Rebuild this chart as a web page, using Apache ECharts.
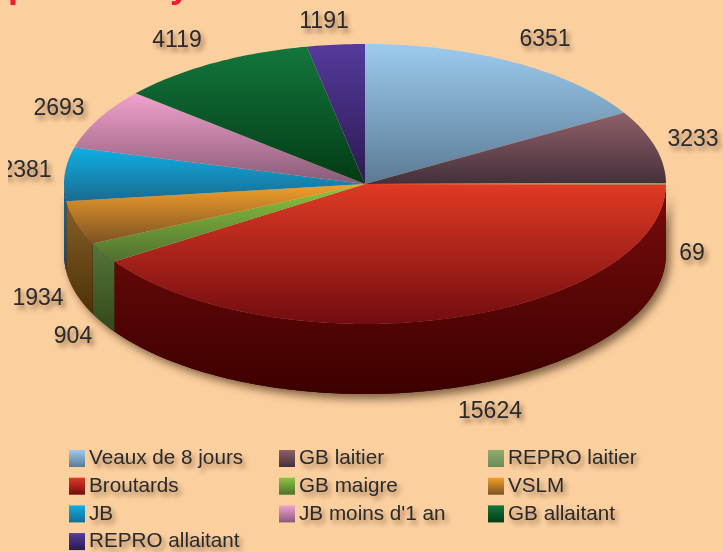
<!DOCTYPE html>
<html>
<head>
<meta charset="utf-8">
<style>
html,body{margin:0;padding:0;background:#fccf9f;}
#main{width:723px;height:552px;}
</style>
<script src="https://cdn.jsdelivr.net/npm/echarts@6/dist/echarts.min.js"></script>
</head>
<body>
<div id="main"></div>
<script>
var categories=['Veaux de 8 jours','GB laitier','REPRO laitier','Broutards','GB maigre','VSLM','JB','JB moins d\'1 an','GB allaitant','REPRO allaitant'];
var values=[6351,3233,69,15624,904,1934,2381,2693,4119,1191];

// top face colours, then side wall colours (light to dark)
var topColors=[['#9ccbef','#5b7a94'],['#906068','#44303a'],['#8fac70','#6f8a55'],['#e03a24','#720c10'],['#8cc63f','#4f702f'],['#f3a02a','#7c5224'],['#0db0e3','#1b6a90'],['#f2a2cc','#885a78'],['#13773c','#033a15'],['#553a9c','#2a1a50']];
var wallColors=[null,null,null,['#7a0c0c','#3c0000'],['#56763a','#33471b'],['#876028','#4e3206'],['#1a6a90','#124d6e'],null,null,null];
// label anchor points, centre of text
var labelPos=[[545,40],[693,140],[692,254],[490,412],[73,337],[38,299],[26,171],[59,109],[177,41],[324,22]];

var cx=365,cy=184,rx=301,ry=140,depth=70;
var total=values.reduce(function(a,b){return a+b},0);

function grad(c){
    return {type:'linear',x:0,y:0,x2:0,y2:1,colorStops:[{offset:0,color:c[0]},{offset:1,color:c[1]}]};
}
function pt(deg,dy){
    var t=deg*Math.PI/180;
    return [cx+rx*Math.sin(t),cy-ry*Math.cos(t)+(dy||0)];
}
function arc(a,b,dy){
    var pts=[],n=Math.max(2,Math.ceil(Math.abs(b-a)));
    for(var i=0;i<=n;i++) pts.push(pt(a+(b-a)*i/n,dy));
    return pts;
}
function wallPoints(a,b){
    return arc(a,b,0).concat(arc(b,a,depth));
}

function makeSeries(idx){
    var before=values.slice(0,idx).reduce(function(a,b){return a+b},0);
    var a0=before/total*360,a1=(before+values[idx])/total*360;
    return {
        name:categories[idx],
        type:'custom',
        coordinateSystem:'none',
        silent:true,
        itemStyle:{color:grad(topColors[idx])},
        data:[[values[idx]]],
        z:2,
        renderItem:function(params,api){
            var kids=[];
            if(idx===0){
                // soft shadow under the whole cake
                kids.push({type:'polygon',shape:{points:wallPoints(90,270)},style:{
                    fill:'#3c0000',shadowBlur:9,shadowColor:'rgba(50,30,10,0.6)',shadowOffsetX:4,shadowOffsetY:5}});
            }
            var w0=Math.max(a0,90),w1=Math.min(a1,270);
            if(wallColors[idx] && w1>w0){
                kids.push({type:'polygon',shape:{points:wallPoints(w0,w1)},style:{fill:grad(wallColors[idx])}});
            }
            var top=[[cx,cy]].concat(arc(a0,a1,0));
            kids.push({type:'polygon',shape:{points:top},z2:5,style:{fill:grad(topColors[idx])}});
            kids.push({type:'text',z2:6,style:{
                x:labelPos[idx][0],y:labelPos[idx][1],text:String(api.value(0)),
                fill:'#2a2a2c',font:'23px "Liberation Sans"',align:'center',verticalAlign:'middle',
                textShadowBlur:5,textShadowColor:'rgba(60,35,10,0.55)',textShadowOffsetX:3,textShadowOffsetY:4
            }});
            return {type:'group',children:kids};
        }
    };
}

function legendCol(names,left){
    return {
        show:true,orient:'vertical',left:left,top:448,height:200,padding:0,
        data:names,icon:'rect',itemWidth:16,itemHeight:17,itemGap:6.7,selectedMode:false,
        textStyle:{
            color:'#2a2a2c',fontFamily:'Liberation Sans',fontSize:20.7,lineHeight:21,padding:[0,0,0,-1],
            textShadowBlur:5,textShadowColor:'rgba(60,35,10,0.5)',textShadowOffsetX:3,textShadowOffsetY:4
        }
    };
}

var myChart=echarts.init(document.getElementById('main'));
myChart.setOption({
    animation:false,
    backgroundColor:'#fccf9f',
    tooltip:{show:false},
    legend:[
        legendCol([categories[0],categories[3],categories[6],categories[9]],69),
        legendCol([categories[1],categories[4],categories[7]],279),
        legendCol([categories[2],categories[5],categories[8]],488)
    ],
    graphic:[
        {type:'text',z:100,left:8,top:-31,style:{text:'p',fill:'#ed1c2e',font:'bold 36px "Liberation Sans"'}},
        {type:'text',z:100,left:170,top:-31,style:{text:'y',fill:'#ed1c2e',font:'bold 36px "Liberation Sans"'}},
        {type:'rect',z:100,shape:{x:0,y:150,width:8,height:40},style:{fill:'#fccf9f'}}
    ],
    series:categories.map(function(n,i){return makeSeries(i)})
});
</script>
</body>
</html>
